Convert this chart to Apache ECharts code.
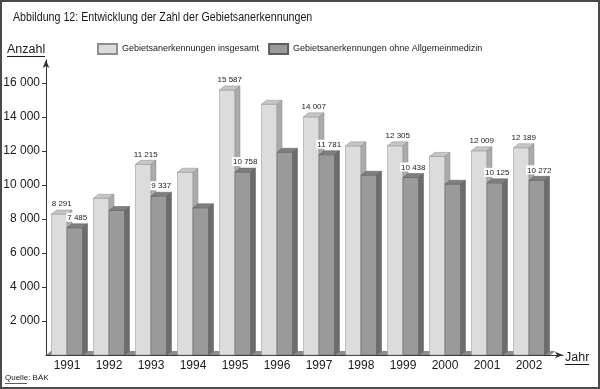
<!DOCTYPE html>
<html>
<head>
<meta charset="utf-8">
<script src="https://cdn.jsdelivr.net/npm/echarts@6/dist/echarts.min.js"></script>
<style>
html,body{margin:0;padding:0;background:#fff;}
#c{width:600px;height:389px;}
</style>
</head>
<body>
<div id="c"></div>
<script>
const years = ['1991','1992','1993','1994','1995','1996','1997','1998','1999','2000','2001','2002'];
const insgesamt = [8291, 9220, 11215, 10750, 15587, 14750, 14007, 12300, 12305, 11680, 12009, 12189];
const ohneAllgemeinmedizin = [7485, 8500, 9337, 8660, 10758, 11920, 11781, 10575, 10438, 10045, 10125, 10272];
const labeledYears = ['1991','1993','1995','1997','1999','2001','2002'];
const yTicks = [2000, 4000, 6000, 8000, 10000, 12000, 14000, 16000];
const seriesNames = ['Gebietsanerkennungen insgesamt', 'Gebietsanerkennungen ohne Allgemeinmedizin'];

const FONT = '"Liberation Sans", Arial, Helvetica, sans-serif';
const DX = 5, DY = 4, BW = 15.5;
const fmt = v => String(v).replace(/\B(?=(\d{3})+(?!\d))/g, ' ');

const palette = [
  {front:'#dcdcdc', top:'#c6c6c6', side:'#ababab', stroke:'#8e8e8e'},
  {front:'#9a9a9a', top:'#7f7f7f', side:'#6c6c6c', stroke:'#5e5e5e'}
];

function barRender(s) {
  return function(params, api) {
    const idx = api.value(0), v = api.value(1);
    const t = api.coord([idx, v]);
    const b = api.coord([idx, 0]);
    const cx = t[0], yt = t[1], yb = b[1];
    const x0 = s === 0 ? cx - BW : cx;
    const x1 = x0 + BW;
    const c = palette[s];
    const children = [
      {type:'polygon', shape:{points:[[x0,yt],[x1,yt],[x1,yb],[x0,yb]]}, style:{fill:c.front, stroke:c.stroke, lineWidth:0.5}},
      {type:'polygon', shape:{points:[[x0,yt],[x1,yt],[x1+DX,yt-DY],[x0+DX,yt-DY]]}, style:{fill:c.top, stroke:c.stroke, lineWidth:0.5}},
      {type:'polygon', shape:{points:[[x1,yt],[x1+DX,yt-DY],[x1+DX,yb-DY],[x1,yb]]}, style:{fill:c.side, stroke:c.stroke, lineWidth:0.5}}
    ];
    if (labeledYears.indexOf(years[idx]) >= 0) {
      children.push({type:'text', z2: 10, style:{
        text: fmt(v), x: x0 + (BW + DX) / 2, y: yt - DY - 2,
        align:'center', verticalAlign:'bottom',
        font: '8px ' + FONT, fill:'#222',
        backgroundColor:'#fff', padding:[1,1,0,1]
      }});
    }
    return {type:'group', children};
  };
}

function floorRender(params, api) {
  const idx = api.value(0);
  const b = api.coord([idx, 0]);
  const w = api.size([1, 0])[0] / 2;
  const yb = b[1];
  return {type:'polygon', shape:{points:[[b[0]-w, yb],[b[0]+w+0.5, yb],[b[0]+w+DX+0.5, yb-DY],[b[0]-w+DX, yb-DY]]},
    style:{fill:'#8a8a8a', stroke:null}};
}

const chart = echarts.init(document.getElementById('c'), null, {renderer:'canvas'});
chart.setOption({
  backgroundColor:'#fff',
  animation:false,
  textStyle:{fontFamily: FONT},
  legend:{left:97, top:43, padding:0, itemWidth:19, itemHeight:10, itemGap:9, icon:'rect',
    textStyle:{fontSize:9, color:'#1a1a1a', fontFamily:FONT},
    data:seriesNames},
  grid:[
    {left:46, right:50, top:60, bottom:34, containLabel:false, outerBoundsMode:'none'},
    {left:46, right:37, top:60, bottom:34, containLabel:false, outerBoundsMode:'none'}
  ],
  xAxis:[
    {type:'category', gridIndex:0, data:years, axisLine:{show:false}, axisTick:{show:false},
      axisLabel:{fontSize:12, color:'#1a1a1a', margin:5, fontFamily:FONT}, splitLine:{show:false}},
    {type:'value', gridIndex:1, min:0, max:1, axisLine:{show:true, lineStyle:{color:'#333', width:1}, symbol:['none','arrow'], symbolSize:[5,8]},
      axisTick:{show:false}, axisLabel:{show:false}, splitLine:{show:false}}
  ],
  yAxis:[
    {type:'value', gridIndex:0, min:0, max:17350,
      axisLine:{show:true, lineStyle:{color:'#333', width:1}, symbol:['none','arrow'], symbolSize:[5,8]},
      axisTick:{show:true, length:4, lineStyle:{color:'#333'}, customValues:yTicks},
      axisLabel:{fontSize:12, color:'#1a1a1a', margin:6, fontFamily:FONT, customValues:yTicks, formatter:v => fmt(v)},
      splitLine:{show:false}},
    {type:'value', gridIndex:1, show:false, min:0, max:1}
  ],
  series:[
    {type:'custom', name:'floor', xAxisIndex:0, yAxisIndex:0, z:1, silent:true,
      data: years.map((y,i)=>[i,0]), renderItem: floorRender},
    {type:'custom', name:seriesNames[0], xAxisIndex:0, yAxisIndex:0, z:2,
      itemStyle:{color:palette[0].front, borderColor:'#8e8e8e', borderWidth:0.5},
      encode:{x:0, y:1},
      data: insgesamt.map((v,i)=>[i,v]), renderItem: barRender(0)},
    {type:'custom', name:seriesNames[1], xAxisIndex:0, yAxisIndex:0, z:3,
      itemStyle:{color:palette[1].front, borderColor:'#5e5e5e', borderWidth:0.5},
      encode:{x:0, y:1},
      data: ohneAllgemeinmedizin.map((v,i)=>[i,v]), renderItem: barRender(1)}
  ],
  graphic:[
    {type:'rect', shape:{x:1, y:1, width:598, height:387}, style:{fill:null, stroke:'#4a4a4a', lineWidth:2}, z:100},
    {type:'text', x:13, y:11, scaleX:0.82, style:{text:'Abbildung 12: Entwicklung der Zahl der Gebietsanerkennungen', font:'13px '+FONT, fill:'#1a1a1a', verticalAlign:'top'}},
    {type:'text', x:7, y:43, style:{text:'Anzahl', font:'12.5px '+FONT, fill:'#1a1a1a', verticalAlign:'top'}},
    {type:'line', shape:{x1:7, y1:56.5, x2:45, y2:56.5}, style:{stroke:'#1a1a1a', lineWidth:1}},
    {type:'text', x:565, y:351, style:{text:'Jahr', font:'12.5px '+FONT, fill:'#1a1a1a', verticalAlign:'top'}},
    {type:'line', shape:{x1:565, y1:364.5, x2:589, y2:364.5}, style:{stroke:'#1a1a1a', lineWidth:1}},
    {type:'text', x:5, y:374, style:{text:'Quelle: BÄK', font:'8px '+FONT, fill:'#1a1a1a', verticalAlign:'top'}},
    {type:'line', shape:{x1:5, y1:383.5, x2:27, y2:383.5}, style:{stroke:'#1a1a1a', lineWidth:0.7}}
  ]
});
</script>
</body>
</html>
